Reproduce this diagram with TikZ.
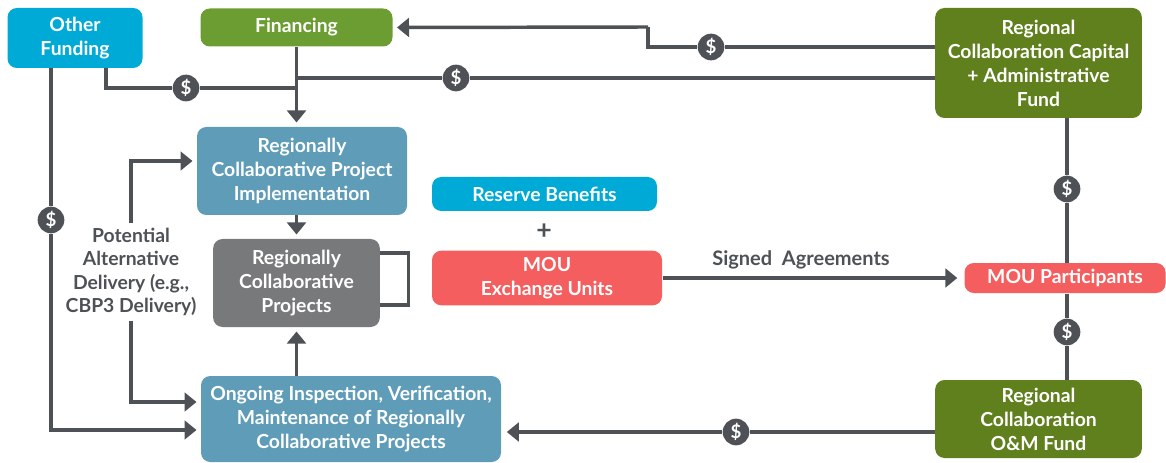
\documentclass[tikz,border=0pt]{standalone}
\usepackage{fontspec}
\setmainfont{Lato}
\usetikzlibrary{arrows.meta,calc}

\definecolor{fundcyan}{RGB}{0,170,215}
\definecolor{fingreen}{RGB}{108,157,50}
\definecolor{fundolive}{RGB}{96,128,30}
\definecolor{projblue}{RGB}{94,156,184}
\definecolor{projgray}{RGB}{120,121,122}
\definecolor{moured}{RGB}{245,94,94}
\definecolor{flowgray}{RGB}{78,82,86}

\tikzset{every picture/.style={line width=0.75pt}}
\tikzset{
  box/.style={rounded corners=7pt, align=center, text=white, inner sep=0pt,
    font=\fontsize{14.5}{18}\selectfont\bfseries},
  flow/.style={draw=flowgray, line width=2.6pt},
  feed/.style={flow, -{Triangle[width=14pt,length=9pt]}, shorten >=3pt},
  dollar/.style={circle, fill=flowgray, text=white, inner sep=0pt, minimum size=20pt,
    font=\fontsize{14}{14}\selectfont\bfseries},
  note/.style={align=center, text=flowgray, font=\fontsize{14.5}{17.6}\selectfont\bfseries}
}

\begin{document}
\begin{tikzpicture}[x=0.75pt,y=0.75pt,yscale=-1,xscale=1]
\useasboundingbox (0,0) rectangle (1166,463);

% Boxes
\node[box, fill=fundcyan, minimum width=101.25pt, minimum height=45pt] (other) at (75,38) {Other\\Funding};
\node[box, fill=fingreen, minimum width=144pt, minimum height=28.5pt] (fin) at (296.5,27.5) {Financing};
\node[box, fill=fundolive, minimum width=155pt, minimum height=82.5pt] (cap) at (1038.5,63) {Regional\\Collaboration Capital\\+ Administrative\\Fund};
\node[box, fill=projblue, minimum width=157.5pt, minimum height=66pt] (impl) at (302,171) {Regionally\\Collaborative Project\\Implementation};
\node[box, fill=projgray, minimum width=125pt, minimum height=66pt] (proj) at (296.5,283) {Regionally\\Collaborative\\Projects};
\node[box, fill=fundcyan, minimum width=168.75pt, minimum height=25.5pt] (reserve) at (544.5,194) {Reserve Benefits};
\node[box, fill=moured, minimum width=172.5pt, minimum height=41pt] (mou) at (547,278) {MOU\\Exchange Units};
\node[box, fill=moured, minimum width=150.75pt, minimum height=22.5pt] (part) at (1065,278) {MOU Participants};
\node[box, fill=fundolive, minimum width=155pt, minimum height=58.5pt] (om) at (1038.5,419) {Regional\\Collaboration\\O\&M Fund};
\node[box, fill=projblue, minimum width=225pt, minimum height=64.5pt] (ongoing) at (351,419) {Ongoing Inspection, Verification,\\Maintenance of Regionally\\Collaborative Projects};

% Text Node
\node[note] (alt) at (131,272) {Potential\\Alternative\\Delivery (e.g.,\\CBP3 Delivery)};
\node[note, font=\fontsize{15}{15}\selectfont\bfseries] (signed) at (801,260) {Signed~ Agreements};
\node[text=flowgray, font=\fontsize{20}{20}\selectfont\bfseries] (plus) at (544,232) {+};

% Dollar markers
\node[dollar] (d1) at (186,88) {\$};
\node[dollar] (d2) at (711,47) {\$};
\node[dollar] (d3) at (456,78) {\$};
\node[dollar] (d4) at (51,220) {\$};
\node[dollar] (d5) at (1067,189) {\$};
\node[dollar] (d6) at (1067,332) {\$};
\node[dollar] (d7) at (736,432) {\$};

% Helper points
\coordinate (jog) at (648,27);
\coordinate (join) at (296.5,78);

% Money flows
\draw[flow] ($(cap.west)+(0,-16)$) -- (d2) -| (jog);
\draw[feed] (jog) -- (fin.east);
\draw[flow] ($(cap.west)+(0,15)$) -- (d3) -- (join);
\draw[flow] ($(other.south)+(31,0)$) |- (d1) -- (d1 -| fin.south);
\draw[feed] (fin.south) -- (fin.south |- impl.north);
\draw[flow] ($(other.south)+(-24,0)$) -- (d4);
\draw[feed] (d4) |- ($(ongoing.west)+(0,11)$);

% Delivery and upkeep
\draw[feed] (alt.north) |- ($(impl.west)+(0,-10)$);
\draw[feed] (alt.south) |- ($(ongoing.west)+(0,-17)$);
\draw[feed] (proj.north |- impl.south) -- (proj.north);
\draw[feed] (proj.south |- ongoing.north) -- (proj.south);
\draw[flow] ($(proj.east)+(0,-30)$) -- ++(28,0) |- ($(proj.east)+(0,22)$);

% Agreements and O&M funding
\draw[feed, shorten >=5pt] (mou.east) -- (part.west);
\draw[flow] (d5 |- cap.south) -- (d5) -- (d5 |- part.north);
\draw[flow] (d6 |- part.south) -- (d6) -- (d6 |- om.north);
\draw[feed, shorten >=4pt] (om.west |- d7) -- (d7) -- (d7 -| ongoing.east);

\end{tikzpicture}
\end{document}
